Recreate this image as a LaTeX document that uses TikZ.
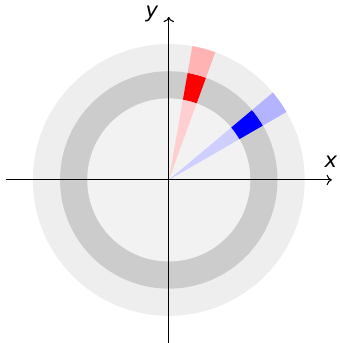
\documentclass[tikz,border=0pt]{standalone}
\usepackage{fontspec}
\setmainfont{DejaVu Sans}
\usepackage{tikz}
\usetikzlibrary{
  arrows.meta,
  positioning
}
\definecolor{outerband}{RGB}{238,238,238}
\definecolor{midband}{RGB}{204,204,204}
\definecolor{innerdisk}{RGB}{242,242,242}
\definecolor{redin}{RGB}{255,206,206}
\definecolor{redout}{RGB}{255,179,179}
\definecolor{bluein}{RGB}{206,206,255}
\definecolor{blueout}{RGB}{179,179,255}

\begin{document}
\begin{tikzpicture}[x=0.544cm, y=0.544cm, axis/.style={draw=black, line width=0.6pt, -{To[length=3pt,width=6pt]}},
  axislabel/.style={font=\fontsize{12}{14}\selectfont\itshape, inner sep=0pt}]
  \useasboundingbox (-6.21,-6) rectangle (6.29,6.62);
  % disk and rings
  \fill[outerband] (0,0) circle (5);
  \fill[midband] (0,0) circle (4);
  \fill[innerdisk] (0,0) circle (3);
  % red sector
  \fill[redin] (0,0) -- (70:3) arc (70:80:3) -- cycle;
  \fill[red] (70:3) arc (70:80:3) -- (80:4) arc (80:70:4) -- cycle;
  \fill[redout] (70:4) arc (70:80:4) -- (80:5) arc (80:70:5) -- cycle;
  % blue sector
  \fill[bluein] (0,0) -- (30:3) arc (30:40:3) -- cycle;
  \fill[blue] (30:3) arc (30:40:3) -- (40:4) arc (40:30:4) -- cycle;
  \fill[blueout] (30:4) arc (30:40:4) -- (40:5) arc (40:30:5) -- cycle;
  % axes
  \coordinate (xmin) at (-6,0);
  \coordinate (xmax) at (6,0);
  \coordinate (ymin) at (0,-6);
  \coordinate (ymax) at (0,6);
  \draw[axis] (xmin) -- (xmax);
  \draw[axis] (ymin) -- (ymax);
  \node[axislabel] (xlabel) at (5.96,0.66) {x};
  \node[axislabel] (ylabel) at (-0.62,6.12) {y};
\end{tikzpicture}
\end{document}
